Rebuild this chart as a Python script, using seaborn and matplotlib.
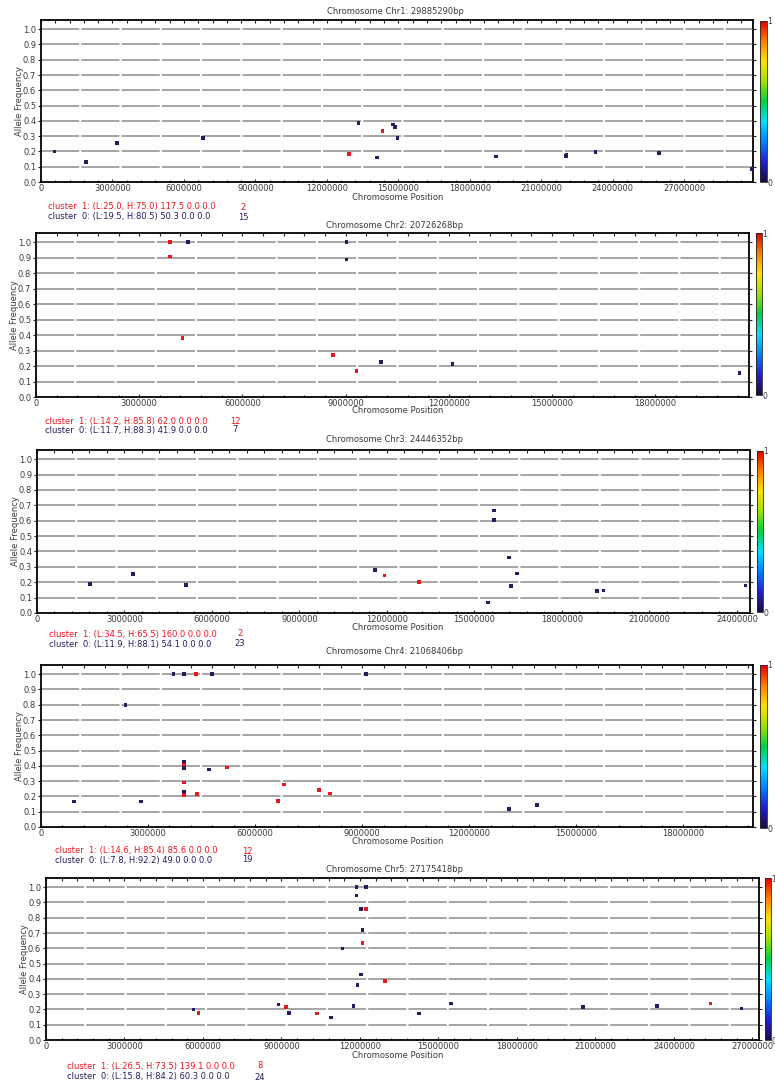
import numpy as np
import pandas as pd
import matplotlib
matplotlib.use("Agg")
import matplotlib.pyplot as plt
import matplotlib.ticker as mticker
from matplotlib.colors import LinearSegmentedColormap, Normalize
import matplotlib.colorbar as mcolorbar
import seaborn as sns

# ---------------- data ----------------
chrom_names = ["Chr1", "Chr2", "Chr3", "Chr4", "Chr5"]
chrom_lengths = [29885290, 20726268, 24446352, 21068406, 27175418]
axis_max = [29885290, 20726268, 24446352, 19950000, 27250000]

chr1_pos = [560000, 1880000, 3190000, 6800000, 12940000, 13330000, 14110000, 14340000,
            14780000, 14850000, 14960000, 19100000, 22050000, 22060000, 23270000, 25950000, 29830000]
chr1_af = [0.20, 0.13, 0.253, 0.29, 0.185, 0.388, 0.161, 0.335,
           0.377, 0.361, 0.29, 0.166, 0.17, 0.18, 0.198, 0.188, 0.085]
chr1_cluster = [0, 0, 0, 0, 1, 0, 0, 1, 0, 0, 0, 0, 0, 0, 0, 0, 0]

chr2_pos = [3900000, 4410000, 3900000, 4260000, 8640000, 9320000, 9030000, 9030000,
            10020000, 12110000, 20450000]
chr2_af = [1.0, 1.0, 0.909, 0.382, 0.27, 0.17, 1.0, 0.888, 0.227, 0.212, 0.157]
chr2_cluster = [1, 0, 1, 1, 1, 1, 0, 0, 0, 0, 0]

chr3_pos = [1820000, 3300000, 5100000, 11590000, 11910000, 13100000, 15680000, 15680000,
            15470000, 16180000, 16250000, 16450000, 19210000, 19420000, 24290000]
chr3_af = [0.189, 0.252, 0.18, 0.278, 0.243, 0.202, 0.666, 0.603,
           0.068, 0.36, 0.174, 0.256, 0.141, 0.146, 0.178]
chr3_cluster = [0, 0, 0, 0, 1, 1, 0, 0, 0, 0, 0, 0, 0, 0, 0]

chr4_pos = [920000, 2800000, 2370000, 3710000, 4000000, 4340000, 4800000, 9100000,
            4000000, 4010000, 4000000, 4010000, 4010000, 4000000, 4380000, 4710000,
            5220000, 6650000, 6810000, 7790000, 8100000, 13110000, 13890000]
chr4_af = [0.166, 0.166, 0.80, 1.0, 1.0, 1.0, 1.0, 1.0,
           0.426, 0.409, 0.387, 0.292, 0.231, 0.21, 0.214, 0.377,
           0.39, 0.171, 0.279, 0.24, 0.22, 0.119, 0.145]
chr4_cluster = [0, 0, 0, 0, 0, 1, 0, 0,
                0, 1, 0, 1, 0, 1, 1, 0,
                1, 1, 1, 1, 1, 0, 0]

chr5_pos = [5640000, 5830000, 8890000, 9180000, 9300000, 10360000, 10890000, 11330000,
            11750000, 11870000, 11870000, 11910000, 12030000, 12030000, 12100000, 12100000,
            12230000, 12230000, 12950000, 14260000, 15470000, 20520000, 23340000, 25400000,
            26580000]
chr5_af = [0.20, 0.178, 0.233, 0.217, 0.178, 0.174, 0.148, 0.598,
           0.224, 1.0, 0.946, 0.359, 0.859, 0.429, 0.718, 0.635,
           1.0, 0.859, 0.387, 0.174, 0.239, 0.217, 0.224, 0.239,
           0.207]
chr5_cluster = [0, 1, 0, 1, 0, 1, 0, 0,
                0, 0, 0, 0, 0, 0, 0, 1,
                0, 1, 1, 0, 0, 0, 0, 1,
                0]

cluster1_texts = ["cluster  1: (L:25.0, H:75.0) 117.5 0.0 0.0",
                  "cluster  1: (L:14.2, H:85.8) 62.0 0.0 0.0",
                  "cluster  1: (L:34.5, H:65.5) 160.0 0.0 0.0",
                  "cluster  1: (L:14.6, H:85.4) 85.6 0.0 0.0",
                  "cluster  1: (L:26.5, H:73.5) 139.1 0.0 0.0"]
cluster1_counts = ["2", "12", "2", "12", "8"]
cluster0_texts = ["cluster  0: (L:19.5, H:80.5) 50.3 0.0 0.0",
                  "cluster  0: (L:11.7, H:88.3) 41.9 0.0 0.0",
                  "cluster  0: (L:11.9, H:88.1) 54.1 0.0 0.0",
                  "cluster  0: (L:7.8, H:92.2) 49.0 0.0 0.0",
                  "cluster  0: (L:15.8, H:84.2) 60.3 0.0 0.0"]
cluster0_counts = ["15", "7", "23", "19", "24"]

all_pos = [chr1_pos, chr2_pos, chr3_pos, chr4_pos, chr5_pos]
all_af = [chr1_af, chr2_af, chr3_af, chr4_af, chr5_af]
all_cluster = [chr1_cluster, chr2_cluster, chr3_cluster, chr4_cluster, chr5_cluster]

# ---------------- style ----------------
sns.set_style("white")
plt.rcParams['font.family'] = ['DejaVu Sans']
W, H = 775, 1083
fig = plt.figure(figsize=(W / 100, H / 100), dpi=100)

RED = "#e8171c"
NAVY = "#2b1a5e"
TXT = "#3a3a3a"
GRIDC = "#9a9a9a"

jet_like = LinearSegmentedColormap.from_list(
    "cb", ["#1c0a40", "#2020d0", "#0080ff", "#00e0ff", "#00d040",
           "#a0e000", "#ffe000", "#ff8000", "#e00000"])

# pixel boxes: (left, top, right, bottom)
axes_px = [(41, 20, 753, 182), (36, 233, 749, 397), (37, 450, 750, 613),
           (41, 665, 753, 827), (46, 878, 759, 1040)]
cbar_px = [(760, 21, 767, 182), (756, 233, 762, 395), (757, 451, 763, 612),
           (760, 665, 767, 828), (765, 878, 771, 1040)]
title_y = [11, 225, 439, 652, 869]
xlabel_y = [197, 411, 627, 842, 1055]
c1_y = [207, 421, 634, 851, 1066]
c0_y = [217, 430, 644, 860, 1077]
ctext_x = [48, 45, 49, 55, 67]
count_x = [243, 235, 240, 247, 260]

def fx(px):
    return px / W

def fy(py):
    return 1 - py / H

FS = 6

for i in range(5):
    l, t, r, b = axes_px[i]
    ax = fig.add_axes([fx(l), fy(b), fx(r - l), (b - t) / H])
    df = pd.DataFrame({"pos": all_pos[i], "af": all_af[i],
                       "cluster": [str(c) for c in all_cluster[i]]})
    # grid lines
    for gv in np.arange(0.1, 1.01, 0.1):
        ax.axhline(gv, color=GRIDC, lw=1.25, dashes=(22, 1.2), zorder=1)
    sns.scatterplot(data=df, x="pos", y="af", hue="cluster",
                    palette={"0": NAVY, "1": RED}, marker="s", s=7,
                    linewidth=0, legend=False, ax=ax, zorder=3)
    L = chrom_lengths[i]
    ax.set_xlim(0, axis_max[i])
    ax.set_ylim(0, 1.06)
    ax.xaxis.set_major_locator(mticker.MultipleLocator(3000000))
    ax.xaxis.set_minor_locator(mticker.MultipleLocator(600000))
    ax.xaxis.set_major_formatter(mticker.FuncFormatter(lambda v, p: "%d" % int(round(v))))
    ax.yaxis.set_major_locator(mticker.MultipleLocator(0.1))
    ax.yaxis.set_major_formatter(mticker.FormatStrFormatter("%.1f"))
    ax.tick_params(axis="x", which="major", labelsize=FS, colors="#222222",
                   labelcolor=TXT, direction="in", length=2.5, width=0.8, pad=1.5,
                   top=True, bottom=True)
    ax.tick_params(axis="x", which="minor", direction="in", length=1.8, width=0.8,
                   top=True, bottom=True, colors="#222222")
    ax.tick_params(axis="y", which="major", labelsize=FS, labelcolor=TXT,
                   direction="out", length=2, width=0.8, pad=1.5,
                   left=True, right=True, colors="#222222")
    for s in ax.spines.values():
        s.set_color("black")
        s.set_linewidth(1.3)
    ax.set_xlabel("")
    ax.set_ylabel("Allele Frequency", fontsize=FS, color=TXT, labelpad=-1)
    # title / xlabel
    fig.text(fx(395), fy(title_y[i]), "Chromosome %s: %dbp" % (chrom_names[i], L),
             ha="center", va="center", fontsize=FS, color=TXT)
    fig.text(fx(398), fy(xlabel_y[i]), "Chromosome Position",
             ha="center", va="center", fontsize=FS, color=TXT)
    # cluster texts
    fig.text(fx(ctext_x[i]), fy(c1_y[i]), cluster1_texts[i], ha="left", va="center",
             fontsize=FS, color=RED)
    fig.text(fx(count_x[i]), fy(c1_y[i]), cluster1_counts[i], ha="center", va="center",
             fontsize=FS, color=RED)
    fig.text(fx(ctext_x[i]), fy(c0_y[i]), cluster0_texts[i], ha="left", va="center",
             fontsize=FS, color=NAVY)
    fig.text(fx(count_x[i]), fy(c0_y[i]), cluster0_counts[i], ha="center", va="center",
             fontsize=FS, color=NAVY)
    # colorbar
    cl, ct, cr, cb = cbar_px[i]
    cax = fig.add_axes([fx(cl), fy(cb), fx(cr - cl), (cb - ct) / H])
    cbar = mcolorbar.ColorbarBase(cax, cmap=jet_like, norm=Normalize(0, 1),
                                  orientation="vertical")
    cbar.set_ticks([0, 1])
    cbar.set_ticklabels(["0", "1"])
    cbar.ax.tick_params(labelsize=5.5, length=0, pad=0.5, labelcolor=TXT)
    cbar.outline.set_linewidth(0.6)

fig.savefig("out.png", dpi=100)
